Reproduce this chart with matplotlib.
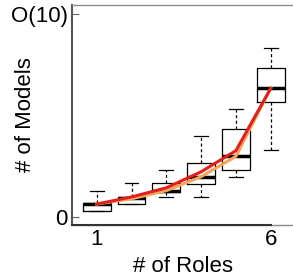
import matplotlib
matplotlib.use("Agg")
import matplotlib.pyplot as plt

plt.rcParams['font.family'] = ['Liberation Sans', 'DejaVu Sans']

roles = [1, 2, 3, 4, 5, 6]
whislo = [0.30, 0.64, 0.99, 0.99, 1.99, 3.32]
q1 = [0.30, 0.64, 1.25, 1.64, 2.32, 5.65]
med = [0.64, 0.95, 1.30, 1.99, 2.99, 6.34]
q3 = [0.67, 1.00, 1.66, 2.65, 4.32, 7.33]
whishi = [1.30, 1.66, 2.30, 3.99, 5.33, 8.33]
red_line = [0.64, 0.99, 1.44, 2.23, 3.27, 6.34]
orange_line = [0.64, 0.90, 1.30, 1.99, 2.99, 6.34]
ytick_vals = [0, 10]
ytick_labels = ['0', 'O(10)']
xtick_vals = [1, 6]

FS = 16
fig = plt.figure(figsize=(2.93, 2.80), dpi=100)
axw = 1 - 72/293 + 0.02
ax = fig.add_axes([72/293, 55/280, axw, 220/280])
axw_px = axw * 293

stats = [dict(whislo=a, q1=b, med=c, q3=d, whishi=e, fliers=[])
         for a, b, c, d, e in zip(whislo, q1, med, q3, whishi)]
ax.bxp(stats, positions=roles, widths=0.8, showfliers=False,
       boxprops=dict(color='black', lw=0.9),
       whiskerprops=dict(color='black', lw=0.9, linestyle=(0, (2.5, 2))),
       capprops=dict(color='black', lw=0.9),
       medianprops=dict(color='black', lw=2.5), manage_ticks=False)

ax.plot(roles, orange_line, color='#f5a55a', lw=2.2, zorder=5)
ax.plot(roles, red_line, color='#e0201c', lw=2.2, zorder=6)

xmax = 0.29 + (6.64 - 0.29) * axw / (1 - 72/293)
ax.set_xlim(0.29, xmax)
ax.set_ylim(-0.39, 10.44)
ax.set_xticks(xtick_vals)
ax.set_yticks(ytick_vals)
ax.set_yticklabels(ytick_labels)
ax.tick_params(axis='both', direction='in', length=5, color='#666666',
               labelsize=FS, pad=3)
ax.tick_params(axis='x', length=0, pad=3)
for s in ax.spines.values():
    s.set_color('#8c8c8c')
    s.set_linewidth(1.0)
ax.spines['right'].set_visible(False)
ax.spines['left'].set_color('#555555')
ax.spines['left'].set_linewidth(1.5)
ax.plot([0.29, 6.0], [-0.39, -0.39], color='#333333', lw=1.5, clip_on=False, zorder=10)

ax.set_xlabel('# of Roles', fontsize=FS)
ax.xaxis.set_label_coords((183 - 72) / axw_px, -(267 - 225) / 220)
ax.xaxis.label.set_va('center')
ax.set_ylabel('# of Models', fontsize=FS)
ax.yaxis.set_label_coords((26 - 72) / axw_px, (225 - 115) / 220)
ax.yaxis.label.set_va('center')

fig.savefig('out.png', dpi=100)
